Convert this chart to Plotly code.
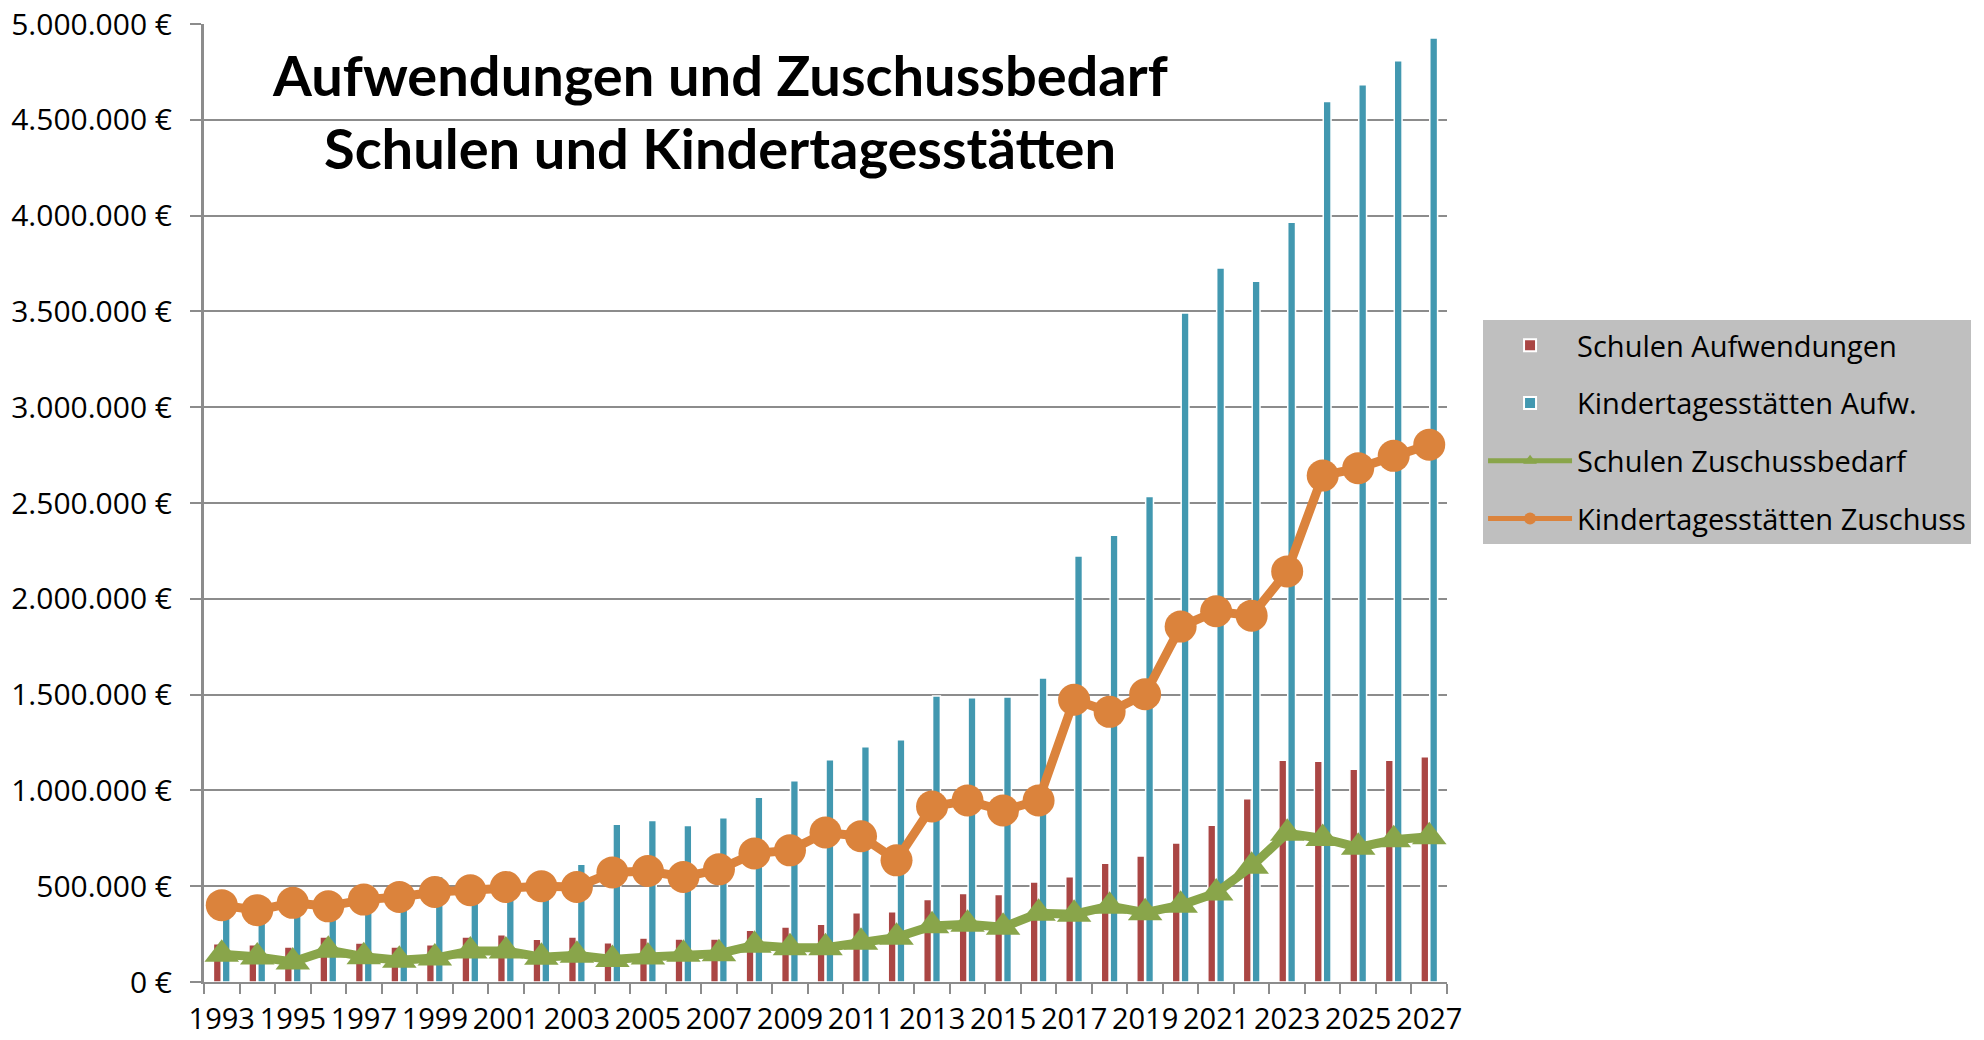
import plotly.graph_objects as go

years = list(range(1993, 2028))

schulen_aufw = [200, 195, 183, 235, 204, 183, 195, 235, 247, 223, 235, 205, 229, 224, 224, 270, 287, 302, 361, 366,
                431, 462, 457, 522, 549, 620, 657, 726, 818, 956, 1157, 1152, 1111, 1157, 1175]
kita_aufw = [440, 410, 470, 450, 500, 510, 550, 540, 530, 540, 615, 823, 843, 817, 857, 964, 1050, 1160, 1228, 1264,
             1493, 1483, 1488, 1587, 2223, 2332, 2534, 3491, 3726, 3657, 3965, 4595, 4683, 4808, 4927]
schulen_zusch = [145, 131, 105, 166, 132, 113, 125, 162, 162, 129, 139, 117, 131, 145, 148, 192, 179, 179, 207, 233,
                 293, 301, 286, 359, 354, 396, 362, 401, 465, 604, 776, 749, 703, 742, 758]
kita_zusch = [401, 375, 413, 395, 430, 444, 470, 479, 496, 500, 496, 572, 579, 548, 588, 671, 687, 780, 761, 635,
              916, 947, 895, 947, 1473, 1410, 1502, 1855, 1935, 1912, 2143, 2643, 2682, 2746, 2804]

schulen_aufw = [v * 1000 for v in schulen_aufw]
kita_aufw = [v * 1000 for v in kita_aufw]
schulen_zusch = [v * 1000 for v in schulen_zusch]
kita_zusch = [v * 1000 for v in kita_zusch]

y_tickvals = [0, 500000, 1000000, 1500000, 2000000, 2500000, 3000000, 3500000, 4000000, 4500000, 5000000]
y_ticktext = ["0 €", "500.000 €", "1.000.000 €", "1.500.000 €", "2.000.000 €", "2.500.000 €",
              "3.000.000 €", "3.500.000 €", "4.000.000 €", "4.500.000 €", "5.000.000 €"]
x_labels = [str(y) for y in years if y % 2 == 1]
x_labelvals = [y for y in years if y % 2 == 1]

title_lines = ["Aufwendungen und Zuschussbedarf", "Schulen und Kindertagesstätten"]

names = ["Schulen Aufwendungen", "Kindertagesstätten Aufw.", "Schulen Zuschussbedarf", "Kindertagesstätten Zuschuss"]
RED = "#AA4644"
TEAL = "#4298B0"
GREEN = "#89A54A"
ORANGE = "#DB833C"
GRID = "#8C8C8C"

fig = go.Figure()
fig.add_trace(go.Bar(x=years, y=schulen_aufw, name=names[0], marker=dict(color=RED, line=dict(color="white", width=1.5)),
                     legendgroup="a"))
fig.add_trace(go.Bar(x=years, y=kita_aufw, name=names[1], marker=dict(color=TEAL, line=dict(color="white", width=1.5)),
                     legendgroup="b"))
fig.add_trace(go.Scatter(x=years, y=schulen_zusch, name=names[2], mode="lines+markers",
                         line=dict(color=GREEN, width=9),
                         marker=dict(symbol="triangle-up", size=30, color=GREEN), legendgroup="c"))
fig.add_trace(go.Scatter(x=years, y=kita_zusch, name=names[3], mode="lines+markers",
                         line=dict(color=ORANGE, width=9),
                         marker=dict(symbol="circle", size=32, color=ORANGE), legendgroup="d"))

minor_vals = [y - 0.5 for y in years] + [years[-1] + 0.5]

fig.update_layout(
    width=1984, height=1040,
    margin=dict(l=204, r=537, t=24, b=58),
    paper_bgcolor="white", plot_bgcolor="white",
    barmode="group", bargap=0.5, bargroupgap=0.12,
    font=dict(family="Open Sans", color="black"),
    showlegend=True,
    legend=dict(x=1.029, y=0.691, xanchor="left", yanchor="top", bgcolor="#BFBFBF",
                font=dict(family="Open Sans", size=29, color="black"),
                traceorder="grouped", tracegroupgap=17, itemwidth=84, itemsizing="constant"),
    xaxis=dict(range=[1992.5, 2027.5], tickmode="array", tickvals=x_labelvals, ticktext=x_labels,
               ticks="", showgrid=False, showline=True, linecolor=GRID, linewidth=2,
               tickangle=0, automargin=False, ticklabelstandoff=10,
               tickfont=dict(family="Open Sans", size=29, color="black"),
               minor=dict(tickmode="array", tickvals=minor_vals, ticks="outside", ticklen=10,
                          tickcolor=GRID, tickwidth=2, showgrid=False),
               zeroline=False),
    yaxis=dict(range=[0, 5000000], tickmode="array", tickvals=y_tickvals, ticktext=y_ticktext,
               ticks="outside", ticklen=11, tickcolor=GRID, tickwidth=2, automargin=False,
               showgrid=True, gridcolor=GRID, gridwidth=2, ticklabelstandoff=12,
               showline=True, linecolor=GRID, linewidth=3, zeroline=False,
               tickfont=dict(family="Open Sans", size=30, color="black")),
)

fig.add_annotation(text="<b>" + title_lines[0] + "</b>", xref="paper", yref="paper",
                   x=(720 - 204) / 1243, y=(982 - 74) / 958, xanchor="center", yanchor="middle", showarrow=False,
                   font=dict(family="Lato", size=56, color="black"))
fig.add_annotation(text="<b>" + title_lines[1] + "</b>", xref="paper", yref="paper",
                   x=(720 - 204) / 1243, y=(982 - 148) / 958, xanchor="center", yanchor="middle", showarrow=False,
                   font=dict(family="Lato", size=56, color="black"))

fig.write_html("out.html", config={"displayModeBar": False},
               post_script="document.body.style.margin='0';")
